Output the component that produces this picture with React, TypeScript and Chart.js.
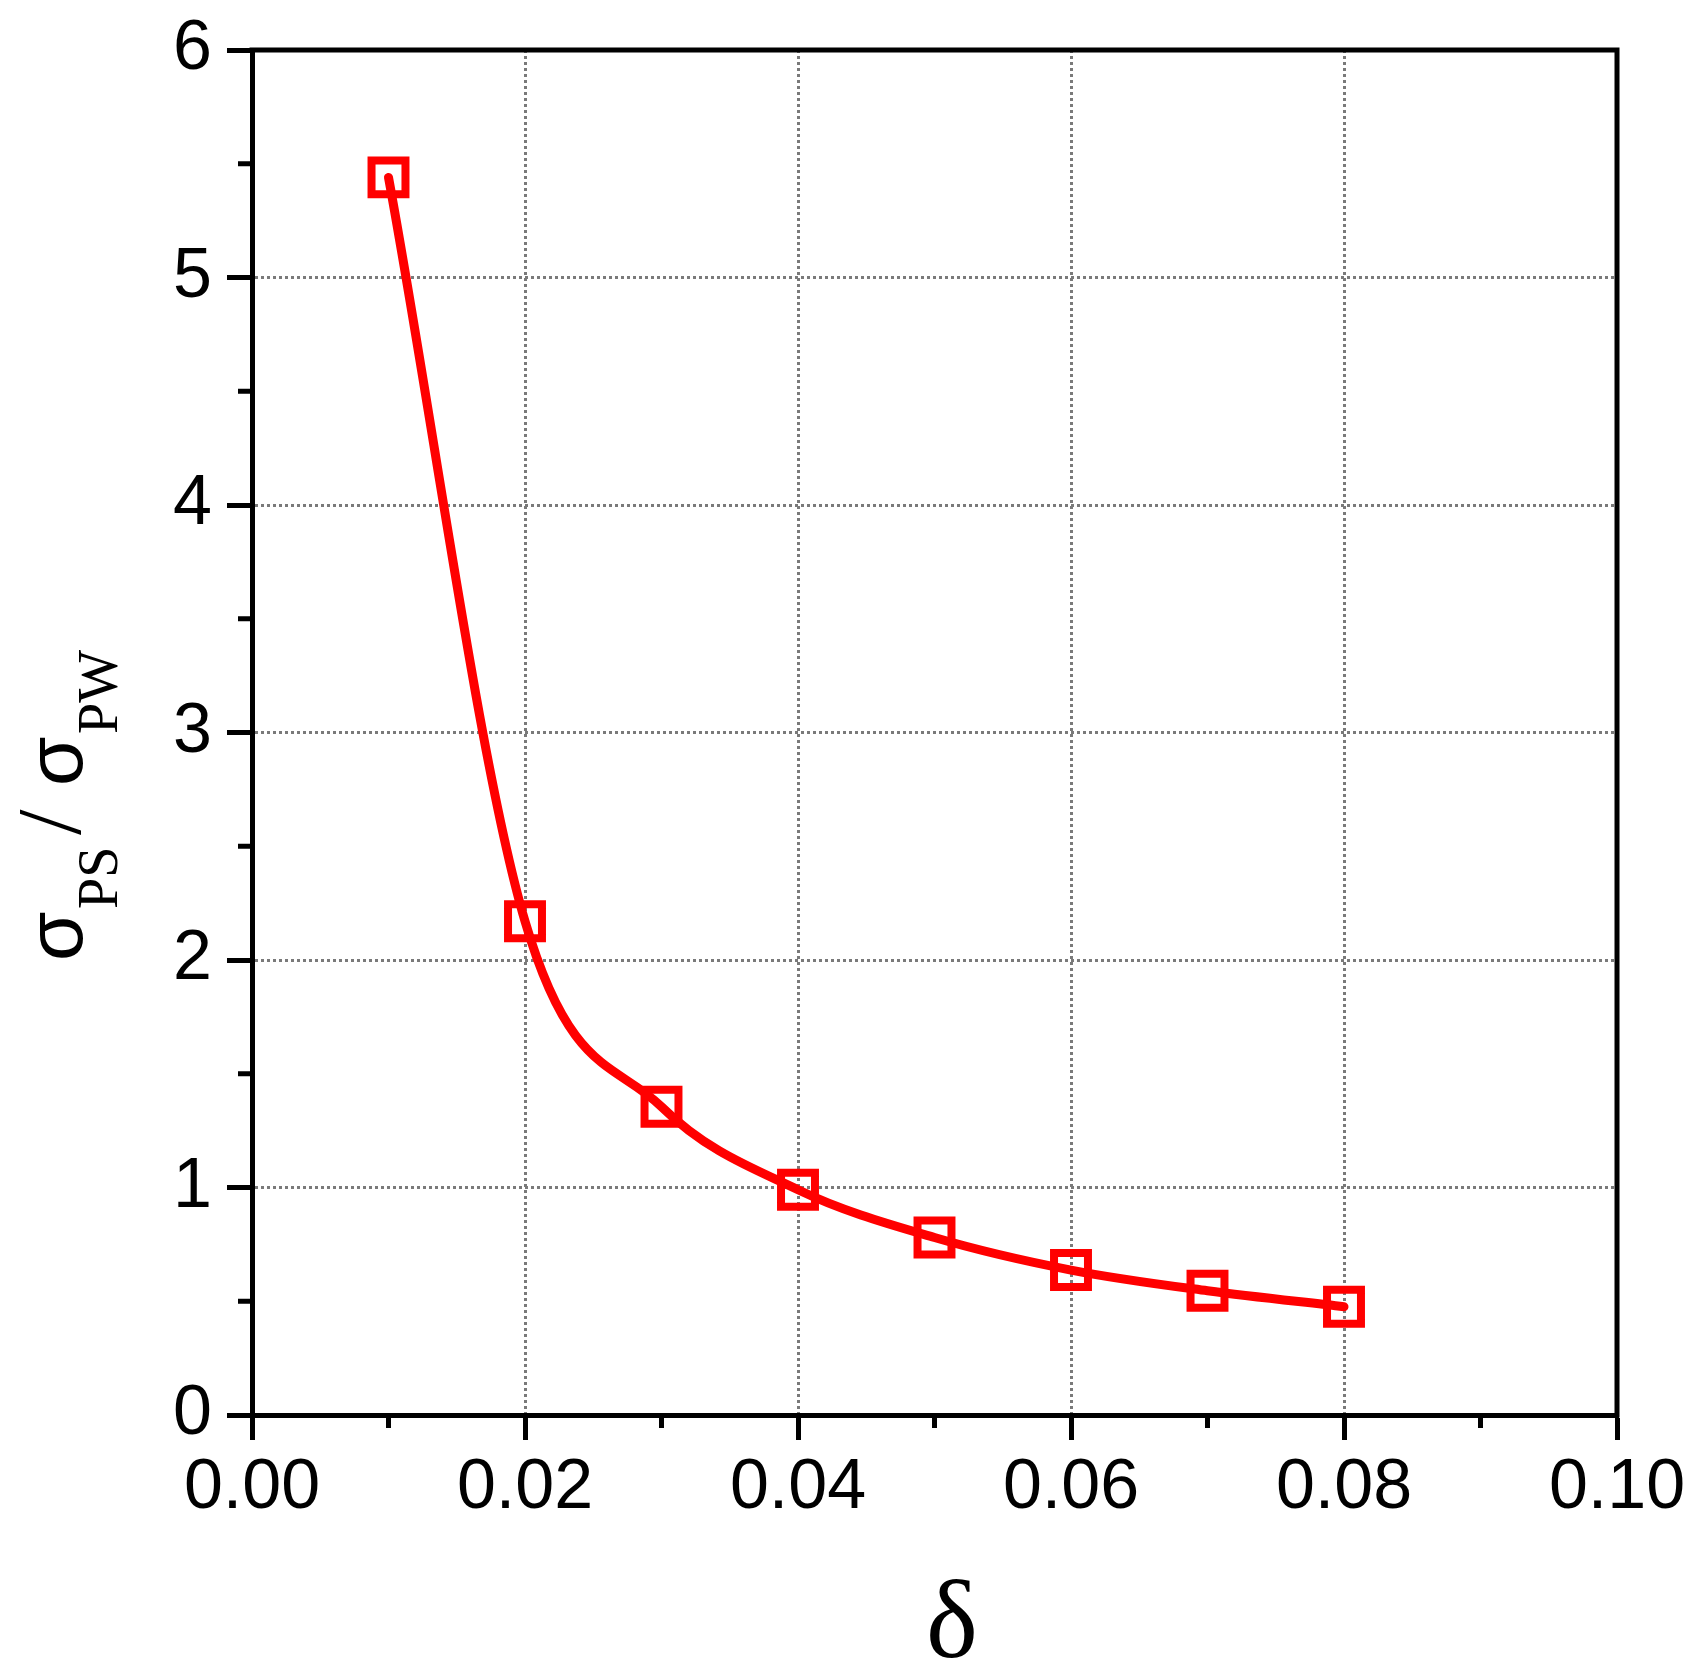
import React, { useEffect, useRef } from "react";
import { Chart, registerables } from "chart.js";

Chart.register(...registerables);

const deltaValues = [0.01, 0.02, 0.03, 0.04, 0.05, 0.06, 0.07, 0.08];
const ratioValues = [5.44, 2.17, 1.355, 0.99, 0.78, 0.637, 0.546, 0.476];
const xMinorTicks = [0.01, 0.03, 0.05, 0.07, 0.09];
const yMinorTicks = [0.5, 1.5, 2.5, 3.5, 4.5, 5.5];
const xTitle = "δ";
const yTitleParts = ["σ", "PS", "/", "σ", "PW"];

const W = 1697;
const H = 1676;
const SANS = "'Liberation Sans', Arial, sans-serif";
const SERIF = "'Liberation Serif', 'Times New Roman', serif";

const framePlugin = {
  id: "frame",
  afterDraw(chart: any) {
    const ctx = chart.ctx as CanvasRenderingContext2D;
    const a = chart.chartArea;
    const xs = chart.scales.x;
    const ys = chart.scales.y;
    ctx.save();
    ctx.strokeStyle = "#000";
    ctx.lineWidth = 5;
    ctx.lineCap = "butt";
    // top and right frame
    ctx.beginPath();
    ctx.moveTo(a.left - 2.5, a.top);
    ctx.lineTo(a.right, a.top);
    ctx.lineTo(a.right, a.bottom + 2.5);
    ctx.stroke();
    // minor ticks
    ctx.beginPath();
    for (const v of xMinorTicks) {
      const px = xs.getPixelForValue(v);
      ctx.moveTo(px, a.bottom);
      ctx.lineTo(px, a.bottom + 13);
    }
    for (const v of yMinorTicks) {
      const py = ys.getPixelForValue(v);
      ctx.moveTo(a.left, py);
      ctx.lineTo(a.left - 14, py);
    }
    ctx.stroke();

    // x title
    ctx.fillStyle = "#000";
    ctx.font = `110px ${SERIF}`;
    ctx.textAlign = "center";
    ctx.textBaseline = "alphabetic";
    ctx.fillText(xTitle, 952, 1657);

    // y title (rotated): u = -y, v = x
    ctx.rotate(-Math.PI / 2);
    const pieces = [
      { t: yTitleParts[0], font: `80px ${SANS}`, start: 958, base: 82 },
      { t: yTitleParts[1], font: `56px ${SERIF}`, start: 908, base: 117 },
      { t: yTitleParts[2], font: `92px ${SERIF}`, start: 835, base: 80 },
      { t: yTitleParts[3], font: `80px ${SANS}`, start: 783, base: 82 },
      { t: yTitleParts[4], font: `56px ${SERIF}`, start: 733, base: 117 },
    ];
    ctx.textAlign = "left";
    for (const p of pieces) {
      ctx.font = p.font;
      const m = ctx.measureText(p.t);
      ctx.fillText(p.t, -p.start + m.actualBoundingBoxLeft, p.base);
    }
    ctx.restore();
  },
};

export default function App() {
  const ref = useRef<HTMLCanvasElement | null>(null);
  useEffect(() => {
    document.body.style.margin = "0";
    const canvas = ref.current!;
    const chart = new Chart(canvas, {
      type: "line",
      data: {
        datasets: [
          {
            data: deltaValues.map((x, i) => ({ x, y: ratioValues[i] })),
            borderColor: "#ff0000",
            borderWidth: 9,
            borderCapStyle: "round",
            borderJoinStyle: "round",
            cubicInterpolationMode: "monotone",
            pointStyle: "rect",
            pointRadius: 24,
            pointBorderWidth: 8,
            pointBorderColor: "#ff0000",
            pointBackgroundColor: "rgba(0,0,0,0)",
            fill: false,
          },
        ],
      },
      options: {
        animation: false,
        responsive: false,
        devicePixelRatio: 1,
        layout: { padding: { top: 50, right: 80, left: 0, bottom: 0 } },
        plugins: {
          legend: { display: false },
          tooltip: { enabled: false },
          title: { display: false },
        },
        scales: {
          x: {
            type: "linear",
            min: 0,
            max: 0.1,
            afterFit: (s: any) => {
              s.height = H - 1415;
              s.paddingLeft = 0;
              s.paddingRight = 0;
            },
            ticks: {
              stepSize: 0.02,
              padding: 7,
              color: "#000",
              font: { family: SANS, size: 70 },
              maxRotation: 0,
              callback: (v: any) => Number(v).toFixed(2),
            },
            grid: {
              color: (c: any) =>
                c.tick && (c.tick.value <= 0.0001 || c.tick.value >= 0.0999) ? "rgba(0,0,0,0)" : "#7a7a7a",
              lineWidth: 3,
              tickLength: 25,
              tickWidth: 5,
              tickColor: "#000",
              tickBorderDash: [],
            },
            border: { display: true, color: "#000", width: 5, dash: [3, 3] },
          },
          y: {
            type: "linear",
            min: 0,
            max: 6,
            afterFit: (s: any) => {
              s.width = 252;
              s.paddingTop = 0;
              s.paddingBottom = 0;
            },
            ticks: {
              stepSize: 1,
              padding: 15,
              color: "#000",
              font: { family: SANS, size: 70 },
              callback: (v: any) => String(v),
            },
            grid: {
              color: (c: any) =>
                c.tick && (c.tick.value <= 0 || c.tick.value >= 6) ? "rgba(0,0,0,0)" : "#7a7a7a",
              lineWidth: 3,
              tickLength: 25,
              tickWidth: 5,
              tickColor: "#000",
              tickBorderDash: [],
            },
            border: { display: true, color: "#000", width: 5, dash: [3, 3] },
          },
        },
      },
      plugins: [framePlugin],
    } as any);
    return () => chart.destroy();
  }, []);
  return (
    <div style={{ position: "absolute", left: 0, top: 0, width: W, height: H, background: "#fff" }}>
      <canvas ref={ref} width={W} height={H} style={{ width: W, height: H, display: "block" }} />
    </div>
  );
}
